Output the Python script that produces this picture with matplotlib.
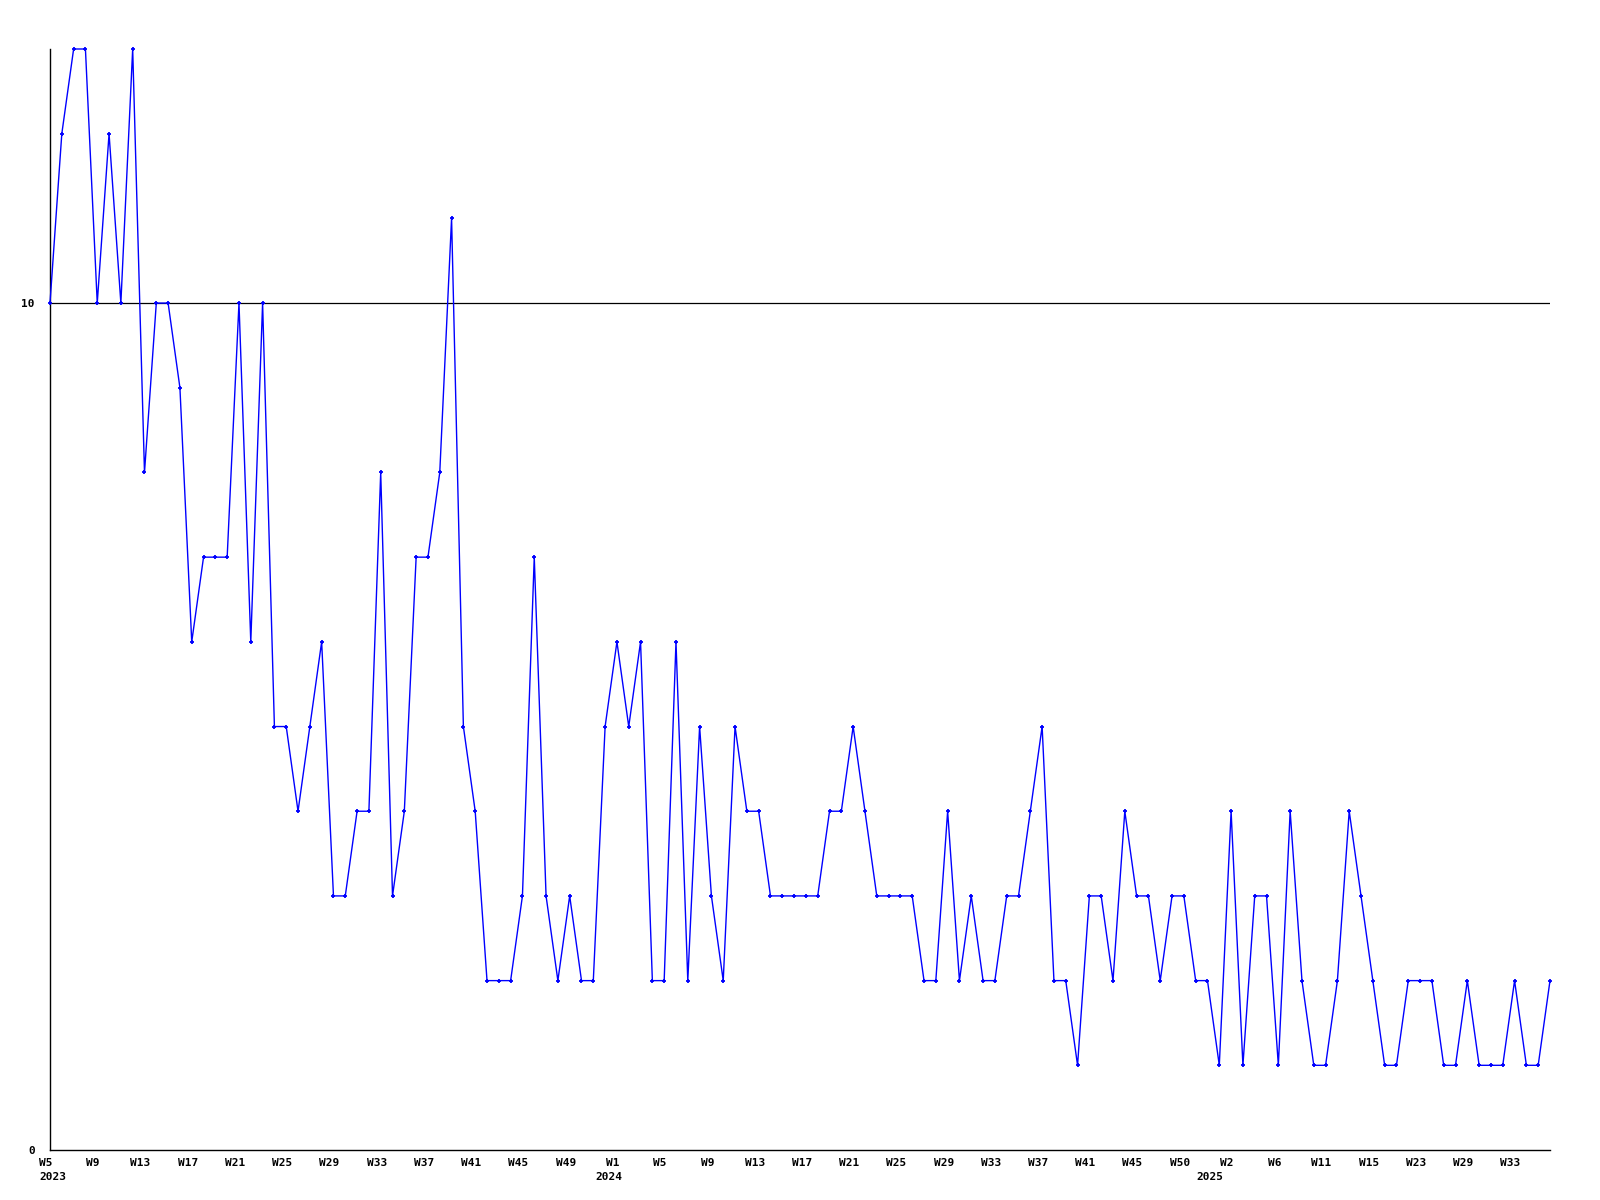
import matplotlib.pyplot as plt
from matplotlib.transforms import ScaledTranslation

# weekly counts, one value per point
values = [10, 12, 13, 13, 10, 12, 10, 13, 8, 10,
          10, 9, 6, 7, 7, 7, 10, 6, 10, 5,
          5, 4, 5, 6, 3, 3, 4, 4, 8, 3,
          4, 7, 7, 8, 11, 5, 4, 2, 2, 2,
          3, 7, 3, 2, 3, 2, 2, 5, 6, 5,
          6, 2, 2, 6, 2, 5, 3, 2, 5, 4,
          4, 3, 3, 3, 3, 3, 4, 4, 5, 4,
          3, 3, 3, 3, 2, 2, 4, 2, 3, 2,
          2, 3, 3, 4, 5, 2, 2, 1, 3, 3,
          2, 4, 3, 3, 2, 3, 3, 2, 2, 1,
          4, 1, 3, 3, 1, 4, 2, 1, 1, 2,
          4, 3, 2, 1, 1, 2, 2, 2, 1, 1,
          2, 1, 1, 1, 2, 1, 1, 2]

week_labels = ["W5", "W9", "W13", "W17", "W21", "W25", "W29", "W33", "W37",
               "W41", "W45", "W49", "W1", "W5", "W9", "W13", "W17", "W21",
               "W25", "W29", "W33", "W37", "W41", "W45", "W50", "W2", "W6",
               "W11", "W15", "W23", "W29", "W33"]
year_labels = ["2023", "2024", "2025"]
year_pos = [0.25, 47.3, 98.2]
y_ticks = [0, 10]

font = dict(family="DejaVu Sans Mono", weight="bold", size=8)

fig = plt.figure(figsize=(16, 12), dpi=100)
ax = fig.add_axes([50 / 1600, 50 / 1200, 1500 / 1600, 1101 / 1200])

x = list(range(len(values)))
ax.plot(x, values, color="#0000ff", lw=1.0, marker="+", ms=3.5, mew=1.3,
        clip_on=False, zorder=3)

ax.set_xlim(0, len(values) - 1)
ax.set_ylim(0, 13)

ax.axhline(10, color="black", lw=0.9, zorder=1)

ax.set_yticks(y_ticks)
ax.set_yticklabels([str(v) for v in y_ticks], **font)
ax.set_xticks(range(0, len(values), 4))
ax.set_xticklabels(week_labels, **font)
ax.tick_params(length=0)
ax.tick_params(axis="y", pad=11)
ax.tick_params(axis="x", pad=6)

# labels sit a little left of their point, like the original
shift = ScaledTranslation(-4 / 100, 0, fig.dpi_scale_trans)
for lab in ax.get_xticklabels():
    lab.set_transform(lab.get_transform() + shift)

for lab, p in zip(year_labels, year_pos):
    ax.annotate(lab, xy=(p, 0), xycoords=("data", "axes fraction"),
                xytext=(0, -19.5), textcoords="offset points",
                ha="center", va="center", **font)

for s in ["top", "right"]:
    ax.spines[s].set_visible(False)
for s in ["left", "bottom"]:
    ax.spines[s].set_linewidth(1.0)

fig.savefig("out.png", dpi=100)
